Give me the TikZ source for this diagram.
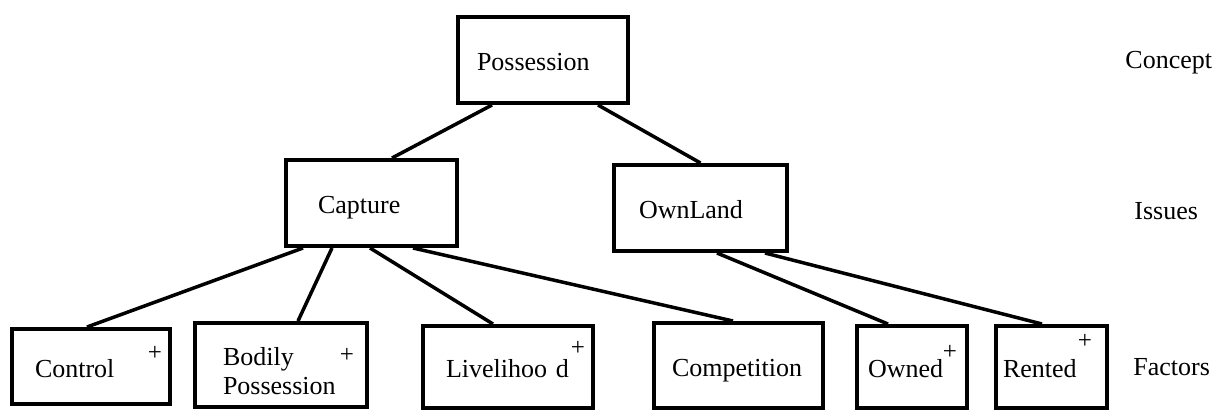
\documentclass[tikz,border=0pt]{standalone}
\usepackage{fontspec}
\setmainfont{Liberation Serif}
\usepackage{tikz}
\usetikzlibrary{positioning}

\begin{document}
\begin{tikzpicture}[
  x=0.5pt, y=-0.5pt,
  box/.style={draw, line width=2pt, inner sep=0pt, align=left,
    text height=11.5pt, text depth=1pt,
    font=\fontsize{13}{14.5}\selectfont},
  plus/.style={inner sep=0pt, font=\fontsize{12.5}{12.5}\selectfont},
  level/.style={anchor=west, inner sep=0pt, font=\fontsize{13}{14.5}\selectfont},
  link/.style={line width=1.75pt},
]
\useasboundingbox (0,0) rectangle (1215,409);

% concept and issues
\node[box, minimum width=85pt, minimum height=43pt, text width=66pt] (poss) at (543,60) {Possession};
\node[box, minimum width=85.5pt, minimum height=43pt, text width=53.5pt] (capt) at (371.5,203) {Capture};
\node[box, minimum width=86.5pt, minimum height=43pt, text width=61.5pt] (own) at (700.5,208) {OwnLand};

% factors
\node[box, minimum width=79pt, minimum height=37.5pt, text width=56pt] (ctrl) at (91,366.5) {Control};
\node[box, minimum width=86pt, minimum height=42pt, text width=58pt,
  text height=15pt, text depth=15pt] (body) at (281,365) {Bodily\\Possession};
\node[box, minimum width=85pt, minimum height=41pt, text width=62pt] (live) at (508,367) {Livelihoo d};
\node[box, minimum width=84.5pt, minimum height=42.5pt, text width=66.5pt] (comp) at (738.5,365.5) {Competition};
\node[box, minimum width=55pt, minimum height=41pt, text width=44pt] (ownd) at (912,367) {Owned};
\node[box, minimum width=55.5pt, minimum height=41pt, text width=48.5pt] (rent) at (1051.5,367) {Rented};

\node[plus] (ctrl-p) at (155,353) {+};
\node[plus] (body-p) at (347,355) {+};
\node[plus] (live-p) at (578,348) {+};
\node[plus] (ownd-p) at (950,352) {+};
\node[plus] (rent-p) at (1085,341) {+};

% levels
\node[level] (concept) at (1125,63) {Concept};
\node[level] (issues) at (1134,211) {Issues};
\node[level] (factors) at (1133,367) {Factors};

\draw[link] ([xshift=-25.5pt]poss.south) -- ([xshift=10.25pt]capt.north);
\draw[link] ([xshift=27.5pt]poss.south) -- (own.north);

\draw[link] ([xshift=-34.25pt]capt.south) -- ([xshift=-2pt]ctrl.north);
\draw[link] ([xshift=-19.75pt]capt.south) -- ([xshift=8.5pt]body.north);
\draw[link] ([xshift=-0.75pt]capt.south) -- ([xshift=-7.5pt]live.north);
\draw[link] ([xshift=20.75pt]capt.south) -- ([xshift=-2.75pt]comp.north);

\draw[link] ([xshift=8.25pt]own.south) -- ([xshift=-12pt]ownd.north);
\draw[link] ([xshift=32.25pt]own.south) -- ([xshift=-4.75pt]rent.north);

\end{tikzpicture}
\end{document}
